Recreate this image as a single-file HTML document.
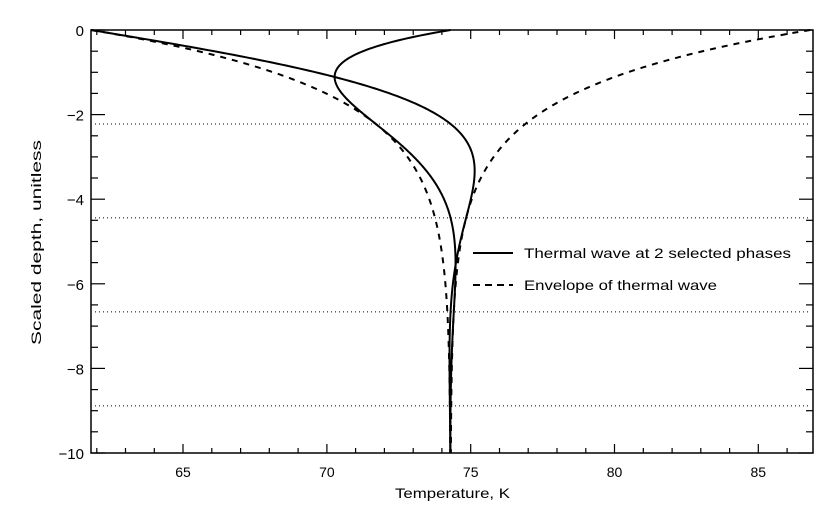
<!DOCTYPE html>
<html><head><meta charset="utf-8"><style>
html,body{margin:0;padding:0;background:#fff;}
svg text{font-family:"Liberation Sans",sans-serif;fill:#000;}
</style></head><body>
<svg id="s" width="840" height="514" xmlns="http://www.w3.org/2000/svg"></svg>
<script>
const s=document.getElementById('s');
const L=91,R=813,T=30,B=453,x0=61.8,x1=86.9;
const X=v=>L+(v-x0)/(x1-x0)*(R-L), Y=d=>T+d/10*(B-T);
let h='';
h+=`<rect x="${L}" y="${T}" width="${R-L}" height="${B-T}" fill="none" stroke="#000" stroke-width="1.5"/>`;
for(let v=62;v<=86;v++){const len=v%5==0?9:5;const x=X(v).toFixed(1);
 h+=`<line x1="${x}" y1="${B}" x2="${x}" y2="${B-len}" stroke="#000" stroke-width="1.2"/><line x1="${x}" y1="${T}" x2="${x}" y2="${T+len}" stroke="#000" stroke-width="1.2"/>`;
 if(v%5==0) h+=`<text x="${x}" y="477" font-size="14" text-anchor="middle">${v}</text>`;}
for(let d=0;d<=10;d+=0.5){const len=d%2==0?14:7;const y=Y(d).toFixed(1);
 h+=`<line x1="${L}" y1="${y}" x2="${L+len}" y2="${y}" stroke="#000" stroke-width="1.2"/><line x1="${R}" y1="${y}" x2="${R-len}" y2="${y}" stroke="#000" stroke-width="1.2"/>`;
 if(d%2==0) h+=`<text x="84" y="${(+y+6).toFixed(1)}" font-size="15" text-anchor="end">${d==0?'0':'\u2212'+d}</text>`;}
for(let k=1;k<=4;k++){const y=Y(k*Math.PI/Math.SQRT2).toFixed(1);
 h+=`<line x1="${L+4}" y1="${y}" x2="${R-4}" y2="${y}" stroke="#000" stroke-width="1" stroke-dasharray="1,3"/>`;}
const m=74.3,A=12.5;
function path(f){let p='';for(let d=0;d<=10;d+=0.02){const a=d/Math.SQRT2;p+=(p?'L':'M')+X(f(a)).toFixed(2)+','+Y(d).toFixed(2);}return p;}
h+=`<path d="${path(a=>m-A*Math.exp(-a)*Math.cos(a))}" fill="none" stroke="#000" stroke-width="2"/>`;
h+=`<path d="${path(a=>m-A*Math.exp(-a)*Math.sin(a))}" fill="none" stroke="#000" stroke-width="2"/>`;
h+=`<path d="${path(a=>m+A*Math.exp(-a))}" fill="none" stroke="#000" stroke-width="2" stroke-dasharray="6,6"/>`;
h+=`<path d="${path(a=>m-A*Math.exp(-a))}" fill="none" stroke="#000" stroke-width="2" stroke-dasharray="6,6"/>`;
h+=`<line x1="473" y1="253" x2="513" y2="253" stroke="#000" stroke-width="2"/><text x="524" y="258" font-size="14" textLength="267" lengthAdjust="spacingAndGlyphs">Thermal wave at 2 selected phases</text>`;
h+=`<line x1="473" y1="285" x2="513" y2="285" stroke="#000" stroke-width="2" stroke-dasharray="7,5"/><text x="524" y="290" font-size="14" textLength="193" lengthAdjust="spacingAndGlyphs">Envelope of thermal wave</text>`;
h+=`<text x="395" y="498" font-size="14" textLength="115" lengthAdjust="spacingAndGlyphs">Temperature, K</text>`;
h+=`<text transform="translate(41,345) rotate(-90)" font-size="14" textLength="205" lengthAdjust="spacingAndGlyphs">Scaled depth, unitless</text>`;
s.innerHTML=h;
</script>
</body></html>
